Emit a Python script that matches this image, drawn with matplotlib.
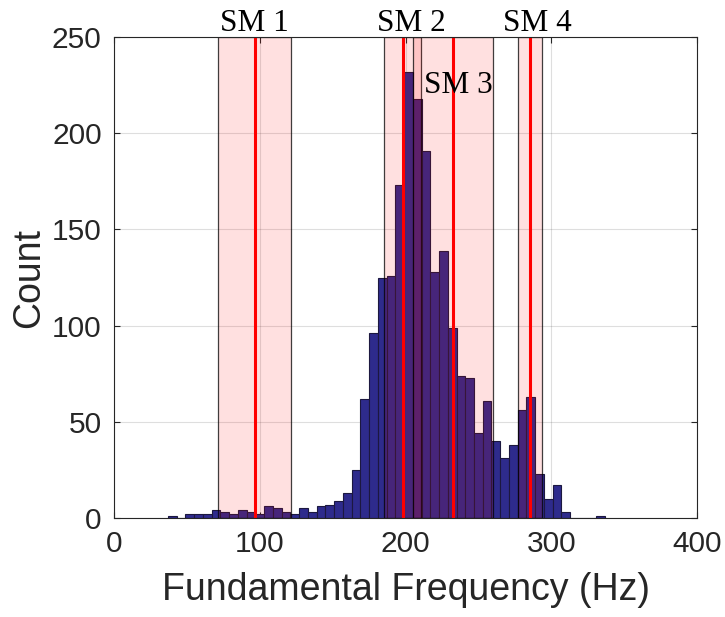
import numpy as np
import matplotlib
matplotlib.use("Agg")
import matplotlib.pyplot as plt

# ---- data ----
bin_start = 37
bin_width = 6
counts = [1, 0, 2, 2, 2, 4, 3, 2, 4, 3,
          2, 6, 5, 3, 2, 5, 3, 6, 7, 9,
          13, 25, 62, 96, 125, 126, 173, 232, 218, 191,
          128, 139, 99, 74, 73, 44, 61, 40, 31, 38,
          56, 63, 23, 10, 17, 3, 0, 0, 0, 1]
sm_labels = ["SM 1", "SM 2", "SM 3", "SM 4"]
sm_means = [96.5, 198.0, 232.5, 285.5]
sm_stds = [25.0, 12.7, 27.2, 8.3]
sm_label_x = [96.5, 203.7, 236.5, 290.2]
sm_label_y = [257, 257, 225, 257]
xticks = [0, 100, 200, 300, 400]
yticks = [0, 50, 100, 150, 200, 250]

# ---- figure ----
W, H = 725, 617
fig = plt.figure(figsize=(W / 100, H / 100), dpi=100)
ax = fig.add_axes([114 / W, 1 - 518 / H, (697 - 114) / W, (518 - 37) / H])

lefts = bin_start + bin_width * np.arange(len(counts))
ax.bar(lefts, counts, width=bin_width, align="edge",
       color="#2e2b8c", edgecolor="#1c1840", linewidth=0.8, zorder=2)

for m, s in zip(sm_means, sm_stds):
    ax.axvspan(m - s, m + s, facecolor=(1, 0, 0, 0.12),
               edgecolor=(0, 0, 0, 0.75), linewidth=0.9, zorder=3)
for m in sm_means:
    ax.axvline(m, color="#ff0000", linewidth=2.2, zorder=4)

for lab, x, y in zip(sm_labels, sm_label_x, sm_label_y):
    ax.text(x, y, lab, ha="center", va="center", fontsize=22.5,
            family="Liberation Serif", color="black", clip_on=False, zorder=5)

ax.set_xlim(0, 400)
ax.set_ylim(0, 250)
ax.set_xticks(xticks)
ax.set_yticks(yticks)
ax.grid(True, color="#262626", alpha=0.15, linewidth=0.8, zorder=0)
ax.set_axisbelow(True)

for sp in ax.spines.values():
    sp.set_color("#262626")
    sp.set_linewidth(0.8)
    sp.set_zorder(6)

ax.tick_params(direction="in", length=4, width=0.8, color="#262626",
               top=True, right=True, labelsize=21.5, labelcolor="#262626")
ax.tick_params(axis="y", pad=8.9)
ax.tick_params(axis="x", pad=9)
for t in ax.get_xticklabels() + ax.get_yticklabels():
    t.set_family("Liberation Sans")

ax.set_xlabel("Fundamental Frequency (Hz)", fontsize=27, family="Liberation Sans",
              color="#262626", labelpad=10)
ax.set_ylabel("Count", fontsize=27, family="Liberation Sans",
              color="#262626", labelpad=3.5)

fig.savefig("out.png", dpi=100)
